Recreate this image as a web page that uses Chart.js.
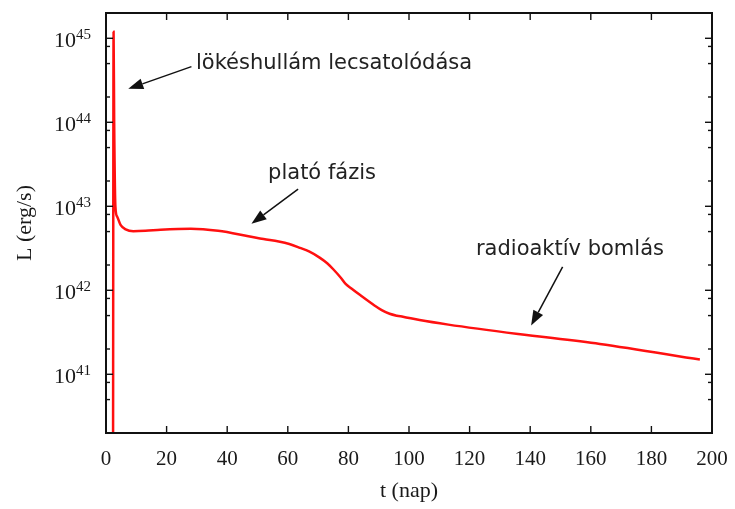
<!DOCTYPE html>
<html>
<head>
<meta charset="utf-8">
<script src="https://cdn.jsdelivr.net/npm/chart.js@4/dist/chart.umd.min.js"></script>
<style>
  body { margin: 0; background: #fff; }
</style>
</head>
<body>
<canvas id="lcChart" width="735" height="509"></canvas>
<script>
// light curve: t in days, L in erg/s
const tDays = [2.3, 2.5, 2.7, 3.1, 3.7, 4.8, 6.5, 9, 13, 18, 28, 37, 47, 52, 57, 60.5, 64, 67, 70.5, 73, 75, 77.5, 79, 81, 84, 88.6, 91, 93.6, 96, 98, 103.5, 113, 136, 163, 196];
const lum = [1e39, 1.2e45, 1e44, 1e43, 7.5e42, 6e42, 5.3e42, 5.05e42, 5.1e42, 5.25e42, 5.4e42, 5.1e42, 4.4e42, 4.07e42, 3.8e42, 3.55e42, 3.2e42, 2.9e42, 2.45e42, 2.1e42, 1.78e42, 1.41e42, 1.2e42, 1.05e42, 8.7e41, 6.6e41, 5.8e41, 5.25e41, 4.98e41, 4.84e41, 4.42e41, 3.9e41, 3.02e41, 2.3e41, 1.5e41];

const xTicks = [0, 20, 40, 60, 80, 100, 120, 140, 160, 180, 200];
const yMajor = [1e41, 1e42, 1e43, 1e44, 1e45];
const yMinorMantissa = [2, 5, 8];
const yExponents = [40, 41, 42, 43, 44];

const notes = [
  { text: "lökéshullám lecsatolódása", at: [29.7, 4.35e44], tail: [28.2, 4.6e44], head: [7.35, 2.5e44] },
  { text: "plató fázis", at: [53.5, 2.12e43], tail: [63.4, 1.6e43], head: [48.0, 6.2e42] },
  { text: "radioaktív bomlás", at: [122.1, 2.65e42], tail: [150.7, 1.9e42], head: [140.3, 3.8e41] },
];

const serif = "'Liberation Serif', 'DejaVu Serif', serif";
const sans = "'DejaVu Sans', Verdana, sans-serif";

const gnuFrame = {
  id: "gnuFrame",
  afterDatasetsDraw(chart) {
    const { ctx, chartArea: a, scales: { x, y } } = chart;
    ctx.save();
    ctx.strokeStyle = "#111";
    ctx.lineWidth = 1.4;

    function seg(x1, y1, x2, y2) {
      ctx.beginPath();
      ctx.moveTo(x1, y1);
      ctx.lineTo(x2, y2);
      ctx.stroke();
    }

    xTicks.forEach((v) => {
      const px = x.getPixelForValue(v);
      seg(px, a.bottom, px, a.bottom - 7);
      seg(px, a.top, px, a.top + 7);
    });

    const yTicks = [];
    yExponents.forEach((e) => {
      yMinorMantissa.forEach((m) => yTicks.push({ v: m * Math.pow(10, e), len: 4 }));
    });
    yMajor.forEach((v) => yTicks.push({ v: v, len: 7 }));
    yTicks.forEach((t) => {
      if (t.v < y.min || t.v > y.max) return;
      const py = y.getPixelForValue(t.v);
      seg(a.left, py, a.left + t.len, py);
      seg(a.right, py, a.right - t.len, py);
    });

    ctx.lineWidth = 2;
    ctx.strokeRect(a.left, a.top, a.right - a.left, a.bottom - a.top);

    // y tick labels as 10^n
    ctx.fillStyle = "#1a1a1a";
    ctx.textBaseline = "alphabetic";
    ctx.textAlign = "left";
    yMajor.forEach((v) => {
      const py = y.getPixelForValue(v);
      const exp = String(Math.round(Math.log10(v)));
      ctx.font = "15px " + serif;
      const wSup = ctx.measureText(exp).width;
      ctx.font = "22px " + serif;
      const wBase = ctx.measureText("10").width;
      const right = a.left - 15;
      ctx.fillText("10", right - wSup - wBase, py + 9);
      ctx.font = "15px " + serif;
      ctx.fillText(exp, right - wSup, py + 1);
    });

    // annotations
    ctx.font = "21px " + sans;
    ctx.fillStyle = "#222";
    notes.forEach((n) => {
      ctx.fillText(n.text, x.getPixelForValue(n.at[0]), y.getPixelForValue(n.at[1]));
      const x1 = x.getPixelForValue(n.tail[0]), y1 = y.getPixelForValue(n.tail[1]);
      const x2 = x.getPixelForValue(n.head[0]), y2 = y.getPixelForValue(n.head[1]);
      const ang = Math.atan2(y2 - y1, x2 - x1);
      const hl = 15, hw = 5.5;
      const bx = x2 - hl * Math.cos(ang), by = y2 - hl * Math.sin(ang);
      ctx.strokeStyle = "#111";
      ctx.lineWidth = 1.5;
      seg(x1, y1, bx, by);
      ctx.fillStyle = "#111";
      ctx.beginPath();
      ctx.moveTo(x2, y2);
      ctx.lineTo(bx + hw * Math.sin(ang), by - hw * Math.cos(ang));
      ctx.lineTo(bx - hw * Math.sin(ang), by + hw * Math.cos(ang));
      ctx.closePath();
      ctx.fill();
      ctx.fillStyle = "#222";
    });
    ctx.restore();
  },
};

const ctx = document.getElementById("lcChart").getContext("2d");
const lcChart = new Chart(ctx, {
  type: "line",
  data: {
    datasets: [
      {
        data: tDays.map((t, i) => ({ x: t, y: lum[i] })),
        borderColor: "#ff1010",
        borderWidth: 2.5,
        pointRadius: 0,
        cubicInterpolationMode: "monotone",
        fill: false,
      },
    ],
  },
  options: {
    responsive: false,
    animation: false,
    layout: { padding: { top: 13, right: 23, left: 0, bottom: 0 } },
    plugins: { legend: { display: false }, tooltip: { enabled: false } },
    scales: {
      x: {
        type: "linear",
        min: 0,
        max: 200,
        grid: { display: false },
        border: { display: false },
        ticks: {
          stepSize: 20,
          padding: 6,
          color: "#1a1a1a",
          font: { family: serif, size: 21 },
          maxRotation: 0,
        },
        title: {
          display: true,
          text: "t (nap)",
          color: "#1a1a1a",
          font: { family: serif, size: 22 },
          padding: { top: 0, bottom: 5 },
        },
        afterFit(scale) {
          scale.height = 76;
        },
      },
      y: {
        type: "logarithmic",
        min: 2e40,
        max: 2e45,
        grid: { display: false },
        border: { display: false },
        ticks: { display: false },
        title: {
          display: true,
          text: "L (erg/s)",
          color: "#1a1a1a",
          font: { family: serif, size: 22 },
          padding: { top: 12, bottom: 0 },
        },
        afterFit(scale) {
          scale.width = 106;
        },
      },
    },
  },
  plugins: [gnuFrame],
});
</script>
</body>
</html>
